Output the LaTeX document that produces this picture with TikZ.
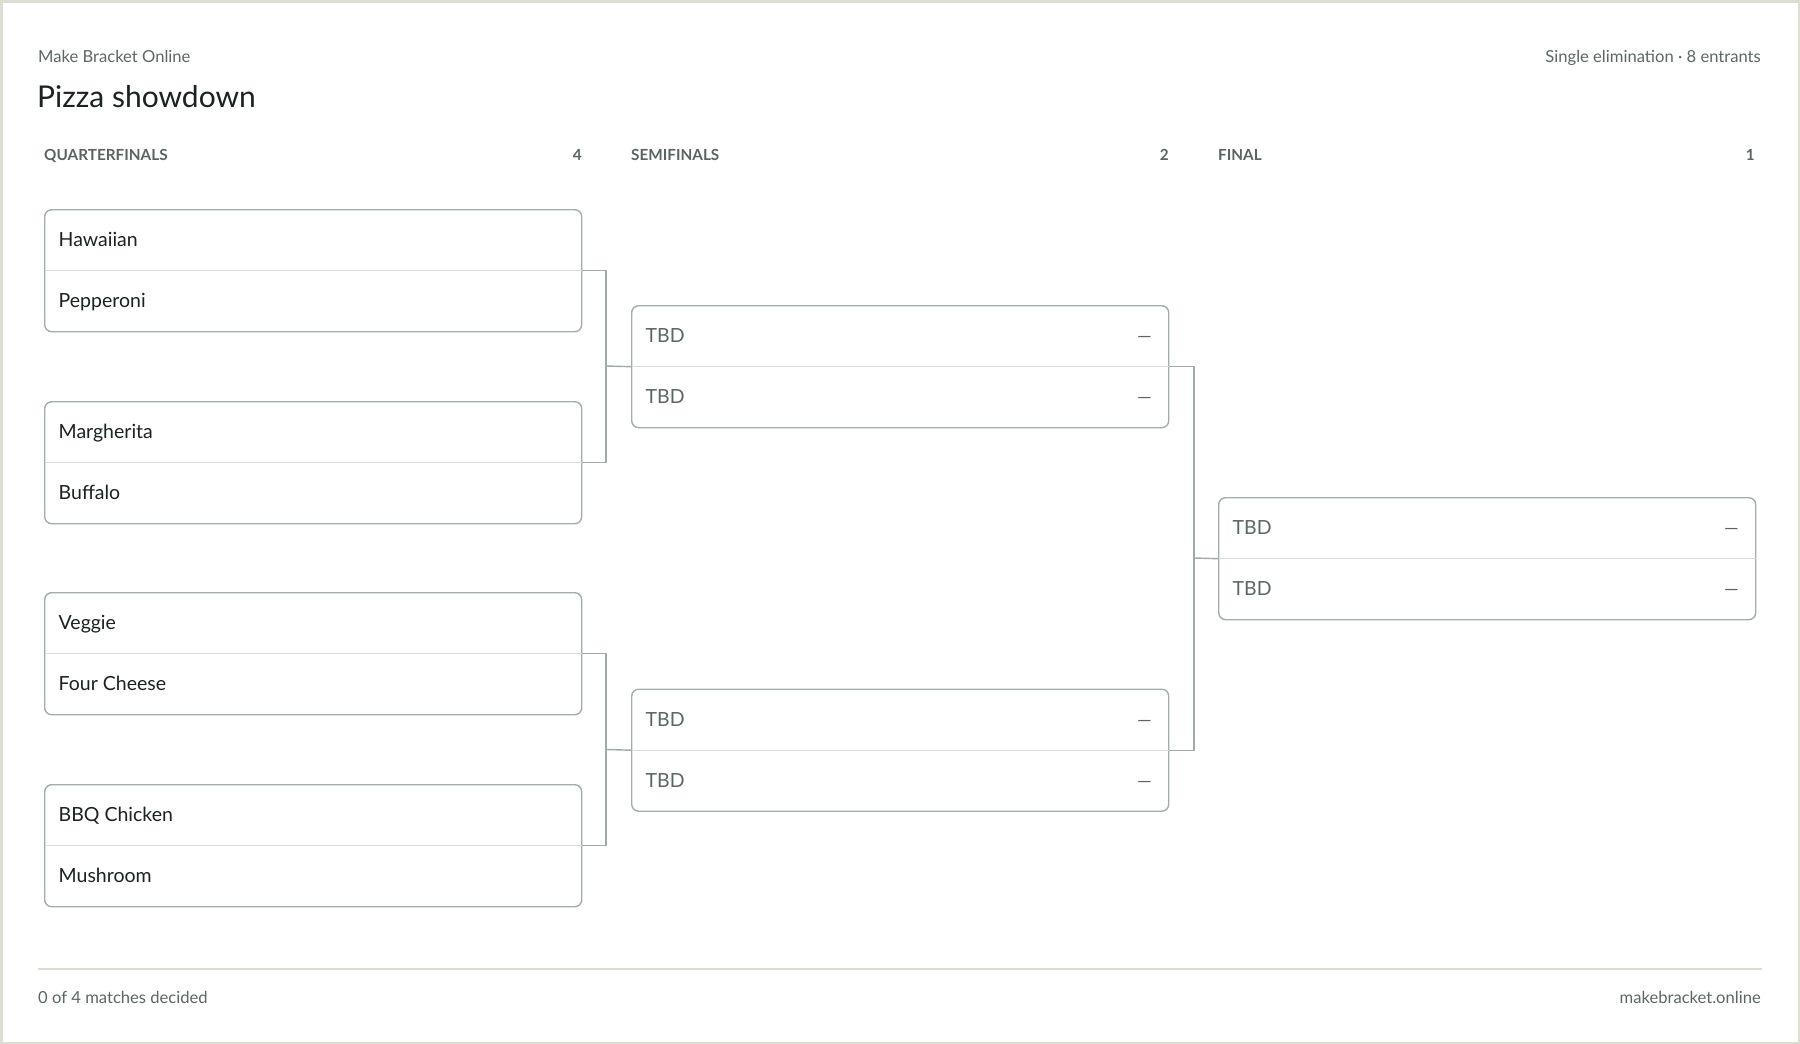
\documentclass[tikz,border=0pt]{standalone}
\usepackage{fontspec}
\setmainfont{Lato}
\definecolor{frame}{HTML}{DCDDD3}
\definecolor{boxc}{HTML}{A3ADA9}
\definecolor{divc}{HTML}{DADCD0}
\definecolor{conn}{HTML}{A0AAA6}
\definecolor{ink}{HTML}{1B221F}
\definecolor{muted}{HTML}{5C6762}
\definecolor{head}{HTML}{5B6560}
\begin{document}
\begin{tikzpicture}[x=1pt,y=-1pt,
  match/.style={draw=boxc, line width=1.4pt, rounded corners=7pt, minimum width=537pt, minimum height=122pt, inner sep=0pt, anchor=north west, fill=white},
  divline/.style={draw=divc, line width=1.3pt},
  connline/.style={draw=conn, line width=1.4pt},
  team/.style={anchor=base west, inner sep=0pt, text=ink, font=\fontsize{19.5}{23}\selectfont},
  tbd/.style={anchor=base west, inner sep=0pt, text=muted, font=\fontsize{19.5}{23}\selectfont},
  dashmark/.style={anchor=base east, inner sep=0pt, text=muted, font=\fontsize{18.5}{22}\selectfont},
  colhead/.style={inner sep=0pt, text=head, font=\bfseries\fontsize{15.3}{18}\selectfont},
  small/.style={inner sep=0pt, text=muted, font=\fontsize{16.6}{20}\selectfont}
]
\useasboundingbox (0,0) rectangle (1800,1044);
\fill[white] (0,0) rectangle (1800,1044);
\draw[frame, line width=2.5pt] (1.25,1.25) rectangle (1798.75,1042.75);

% header
\node[small, anchor=base west] (brand) at (38,62) {Make Bracket Online};
\node[inner sep=0pt, anchor=base west, text=ink, font=\fontsize{30}{35}\selectfont] (title) at (37,107.5) {Pizza showdown};
\node[small, anchor=base east] (meta) at (1761,62) {Single elimination · 8 entrants};

% column headers
\node[colhead, anchor=base west] (hqf) at (44,160.5) {QUARTERFINALS};
\node[colhead, anchor=base east] (hqfn) at (582,160.5) {4};
\node[colhead, anchor=base west] (hsf) at (631,160.5) {SEMIFINALS};
\node[colhead, anchor=base east] (hsfn) at (1169,160.5) {2};
\node[colhead, anchor=base west] (hf) at (1218,160.5) {FINAL};
\node[colhead, anchor=base east] (hfn) at (1755,160.5) {1};

% quarterfinal matches
\node[match] (qf1) at (44,209) {};
\node[match] (qf2) at (44,401) {};
\node[match] (qf3) at (44,592) {};
\node[match] (qf4) at (44,784) {};
% semifinal matches
\node[match] (sf1) at (631,305) {};
\node[match] (sf2) at (631,688.5) {};
% final
\node[match] (fin) at (1218,497) {};

\foreach \m in {qf1,qf2,qf3,qf4,sf1,sf2,fin}{
  \draw[divline] ([xshift=0.7pt]\m.west) -- ([xshift=-0.7pt]\m.east);
}

% team names
\node[team] (t1) at (58.5,246.5) {Hawaiian};
\node[team] (t2) at (58.5,307.5) {Pepperoni};
\node[team] (t3) at (58.5,438.5) {Margherita};
\node[team] (t4) at (58.5,499.5) {Buffalo};
\node[team] (t5) at (58.5,629.5) {Veggie};
\node[team] (t6) at (58.5,690.5) {Four Cheese};
\node[team] (t7) at (58.5,821.5) {BBQ Chicken};
\node[team] (t8) at (58.5,882.5) {Mushroom};

% semifinal slots
\node[tbd] (s1a) at (645.5,342.5) {TBD};
\node[tbd] (s1b) at (645.5,403.5) {TBD};
\node[tbd] (s2a) at (645.5,726) {TBD};
\node[tbd] (s2b) at (645.5,787) {TBD};
\node[dashmark] (d1a) at (1152,342.5) {—};
\node[dashmark] (d1b) at (1152,403.5) {—};
\node[dashmark] (d2a) at (1152,726) {—};
\node[dashmark] (d2b) at (1152,787) {—};
% final slots
\node[tbd] (fa) at (1232.5,534) {TBD};
\node[tbd] (fb) at (1232.5,595) {TBD};
\node[dashmark] (dfa) at (1739,534) {—};
\node[dashmark] (dfb) at (1739,595) {—};

% connectors
\coordinate (j1) at (606,366);
\coordinate (j2) at (606,749.5);
\coordinate (j3) at (1194,558);
\draw[connline] (qf1.east) -| (j1) |- (qf2.east);
\draw[connline] (j1) -- (sf1.west);
\draw[connline] (qf3.east) -| (j2) |- (qf4.east);
\draw[connline] (j2) -- (sf2.west);
\draw[connline] (sf1.east) -| (j3) |- (sf2.east);
\draw[connline] (j3) -- (fin.west);

% footer
\coordinate (fl) at (38,969);
\coordinate (fr) at (1762,969);
\draw[divline] (fl) -- (fr);
\node[small, anchor=base west] (foot1) at (38,1003) {0 of 4 matches decided};
\node[small, anchor=base east] (foot2) at (1761,1003) {makebracket.online};
\end{tikzpicture}
\end{document}
